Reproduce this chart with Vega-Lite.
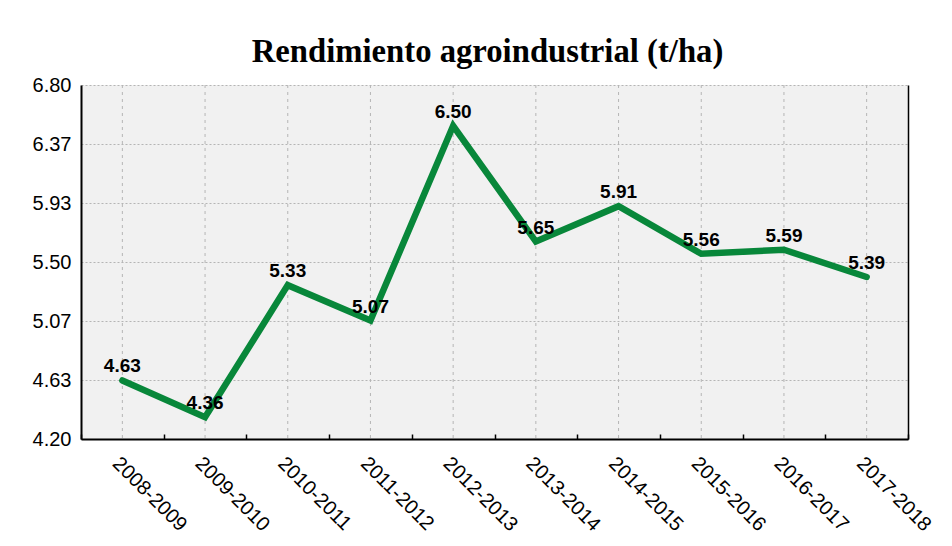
{
  "$schema": "https://vega.github.io/schema/vega-lite/v6.json",
  "width": 827,
  "height": 354,
  "autosize": {"type": "none"},
  "padding": {"left": 81, "top": 85, "right": 44, "bottom": 107},
  "background": "white",
  "title": {
    "text": "Rendimiento agroindustrial (t/ha)",
    "font": "Liberation Serif",
    "fontSize": 32.7,
    "fontWeight": "bold",
    "color": "black",
    "anchor": "middle",
    "frame": "group",
    "baseline": "alphabetic",
    "offset": -20,
    "dx": -7
  },
  "config": {"view": {"fill": "#f1f1f1", "stroke": null}},
  "data": {
    "values": [
      {"zafra": "2008-2009", "rend": 4.63},
      {"zafra": "2009-2010", "rend": 4.36},
      {"zafra": "2010-2011", "rend": 5.33},
      {"zafra": "2011-2012", "rend": 5.07},
      {"zafra": "2012-2013", "rend": 6.50},
      {"zafra": "2013-2014", "rend": 5.65},
      {"zafra": "2014-2015", "rend": 5.91},
      {"zafra": "2015-2016", "rend": 5.56},
      {"zafra": "2016-2017", "rend": 5.59},
      {"zafra": "2017-2018", "rend": 5.39}
    ]
  },
  "layer": [
    {
      "mark": {"type": "rule", "stroke": "#b5b5b5", "strokeDash": [3, 4], "strokeWidth": 1},
      "encoding": {
        "x": {
          "field": "zafra",
          "type": "nominal",
          "sort": null,
          "scale": {"paddingInner": 0, "paddingOuter": 0},
          "axis": {
            "title": null,
            "labelAngle": 45,
            "labelAlign": "left",
            "labelBaseline": "top",
            "labelFont": "Liberation Sans",
            "labelFontSize": 20,
            "labelColor": "black",
            "labelPadding": 19,
            "tickBand": "extent",
            "ticks": true,
            "tickSize": -5,
            "tickColor": "black",
            "tickWidth": 1.5,
            "domainColor": "black",
            "domainWidth": 2,
            "grid": false
          }
        }
      }
    },
    {
      "mark": {"type": "line", "color": "#08873a", "strokeWidth": 6.5, "strokeCap": "round", "strokeJoin": "miter"},
      "encoding": {
        "x": {"field": "zafra", "type": "nominal", "sort": null},
        "y": {
          "field": "rend",
          "type": "quantitative",
          "scale": {"domain": [4.2, 6.8], "nice": false, "zero": false},
          "axis": {
            "title": null,
            "values": [4.2, 4.6333333, 5.0666667, 5.5, 5.9333333, 6.3666667, 6.8],
            "format": ".2f",
            "labelFont": "Liberation Sans",
            "labelFontSize": 20,
            "labelColor": "black",
            "labelPadding": 10,
            "ticks": false,
            "grid": true,
            "gridColor": "#b5b5b5",
            "gridDash": [2, 2],
            "gridWidth": 1,
            "domainColor": "black",
            "domainWidth": 2
          }
        }
      }
    },
    {
      "mark": {"type": "text", "font": "Liberation Sans", "fontSize": 19, "fontWeight": "bold", "color": "black", "baseline": "alphabetic", "dy": -8},
      "encoding": {
        "x": {"field": "zafra", "type": "nominal", "sort": null},
        "y": {
          "field": "rend",
          "type": "quantitative",
          "scale": {"domain": [4.2, 6.8], "nice": false, "zero": false},
          "axis": {
            "orient": "right",
            "title": null,
            "labels": false,
            "ticks": false,
            "grid": false,
            "domainColor": "black",
            "domainWidth": 1.5
          }
        },
        "text": {"field": "rend", "type": "quantitative", "format": ".2f"}
      }
    }
  ],
  "resolve": {"axis": {"y": "independent"}}
}
